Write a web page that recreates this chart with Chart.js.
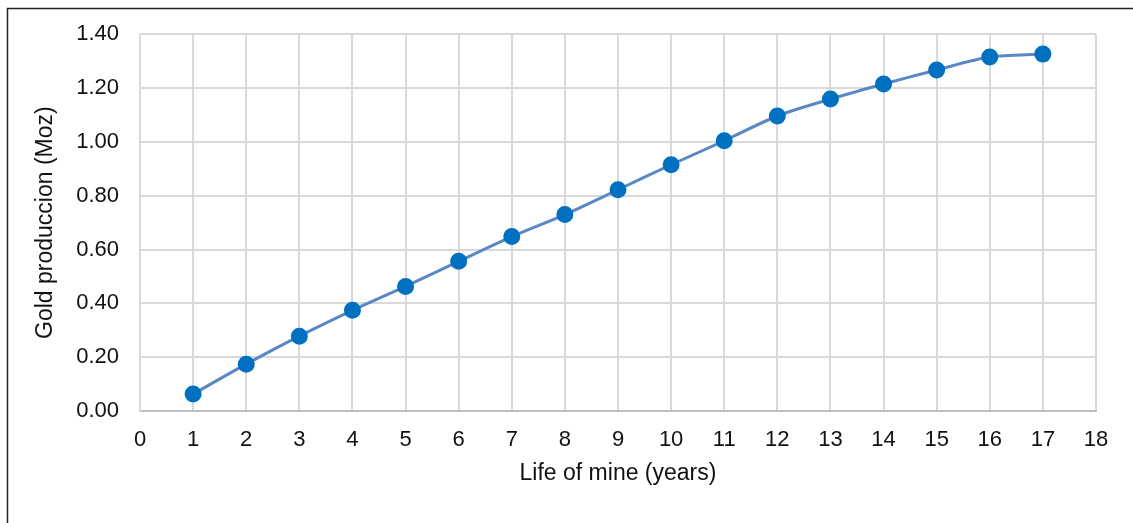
<!DOCTYPE html>
<html>
<head>
<meta charset="utf-8">
<script src="https://cdn.jsdelivr.net/npm/chart.js@4/dist/chart.umd.min.js"></script>
<style>
  html, body { margin: 0; padding: 0; background: #fff; }
  #wrap { width: 1133px; height: 523px; position: relative; }
</style>
</head>
<body>
<div id="wrap"><canvas id="goldChart"></canvas></div>
<script>
// years of mine life and gold production (Moz)
const years = [1, 2, 3, 4, 5, 6, 7, 8, 9, 10, 11, 12, 13, 14, 15, 16, 17];
const production = [0.063, 0.174, 0.278, 0.374, 0.463, 0.556, 0.648, 0.730, 0.822, 0.915, 1.004, 1.096, 1.159, 1.215, 1.267, 1.315, 1.326];
const yTicks = [0, 0.2, 0.4, 0.6, 0.8, 1.0, 1.2, 1.4];

const fontFamily = "'Liberation Sans', Arial, sans-serif";

// thin black frame on the left and top, like the cropped source picture
const framePlugin = {
  id: 'frame',
  afterDraw(chart) {
    const ctx = chart.ctx;
    ctx.save();
    ctx.strokeStyle = '#222';
    ctx.lineWidth = 1.5;
    ctx.beginPath();
    ctx.moveTo(7.5, chart.height);
    ctx.lineTo(7.5, 8.5);
    ctx.lineTo(chart.width, 8.5);
    ctx.stroke();
    ctx.restore();
  }
};

const ctx = document.getElementById('goldChart').getContext('2d');
new Chart(ctx, {
  type: 'line',
  data: {
    datasets: [{
      label: 'Gold production',
      data: years.map((y, i) => ({ x: y, y: production[i] })),
      borderColor: '#5A87C6',
      borderWidth: 3,
      backgroundColor: '#0070C0',
      pointBackgroundColor: '#0070C0',
      pointBorderColor: '#0070C0',
      pointRadius: 7,
      pointHoverRadius: 7,
      tension: 0.3,
      fill: false
    }]
  },
  options: {
    responsive: true,
    maintainAspectRatio: false,
    animation: false,
    layout: { padding: { left: 30, top: 33, right: 37, bottom: 30 } },
    plugins: {
      legend: { display: false },
      tooltip: { enabled: false }
    },
    scales: {
      x: {
        type: 'linear',
        min: 0,
        max: 18,
        afterFit: axis => { axis.height = 82; },
        ticks: {
          stepSize: 1,
          padding: 16,
          color: '#111',
          font: { family: fontFamily, size: 22 },
          maxRotation: 0
        },
        grid: { color: '#D9D9D9', lineWidth: 2, drawTicks: false },
        border: { color: '#BFBFBF', width: 2 },
        title: {
          display: true,
          text: 'Life of mine (years)',
          color: '#111',
          font: { family: fontFamily, size: 23 },
          padding: { top: 4, bottom: 6 }
        }
      },
      y: {
        min: 0,
        max: 1.4,
        afterFit: axis => { axis.width = 110; },
        afterBuildTicks: axis => { axis.ticks = yTicks.map(v => ({ value: v })); },
        ticks: {
          padding: 21,
          color: '#111',
          font: { family: fontFamily, size: 22 },
          callback: v => Number(v).toFixed(2)
        },
        grid: { color: '#D9D9D9', lineWidth: 2, drawTicks: false },
        border: { color: '#D9D9D9', width: 2 },
        title: {
          display: true,
          text: 'Gold produccion (Moz)',
          color: '#111',
          font: { family: fontFamily, size: 23 },
          padding: { top: 2, bottom: 4 }
        }
      }
    }
  },
  plugins: [framePlugin]
});
</script>
</body>
</html>
